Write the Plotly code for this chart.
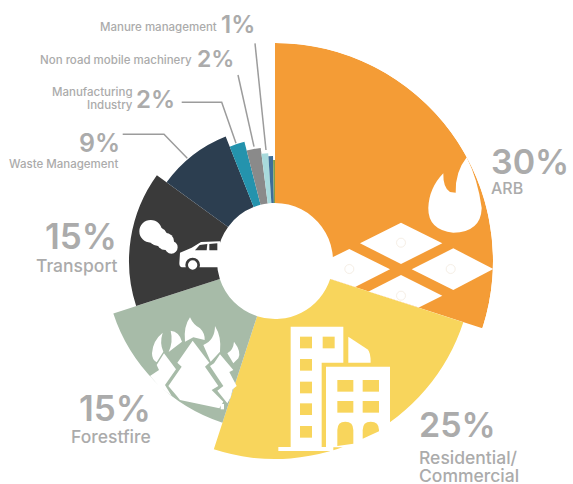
import re
import plotly.graph_objects as go

W, H = 573, 484

# Emission sources, clockwise from twelve o'clock
sources = ["ARB", "Residential/Commercial", "Forestfire", "Transport", "Waste Management",
           "Manufacturing Industry", "Non road mobile machinery", "Manure management",
           "Other", "Other"]
shares = [30, 25, 15, 15, 9, 2, 2, 1, 0.7, 0.3]
reach = [218, 198, 170, 146, 134, 123, 114, 108, 105, 101]
colors = ["#F49C36", "#F8D55C", "#A7BBA8", "#3A3A3A", "#2C3E50",
          "#2493AD", "#8A8A8A", "#A8DADC", "#3E6E98", "#7FA04A"]
HOLE = 58
CX, CY = 275, 261

widths, mids, start = [], [], 0.0
for s in shares:
    w = s * 3.6
    widths.append(w)
    mids.append(start + w / 2)
    start += w

fig = go.Figure(go.Barpolar(
    theta=mids, width=widths, r=[v - HOLE for v in reach], base=HOLE,
    marker=dict(color=colors, line=dict(width=0)),
    text=sources, hovertemplate="%{text}<extra></extra>",
))


def fx(x):
    return x / W


def fy(y):
    return 1 - y / H


def to_path(cmds, ox=0.0, oy=0.0, s=1.0):
    """Turn a pixel-space path into paper coordinates."""
    def pair(m):
        x = ox + float(m.group(1)) * s
        y = oy + float(m.group(2)) * s
        return f"{fx(x):.5f},{fy(y):.5f}"
    return re.sub(r"(-?[\d.]+),(-?[\d.]+)", pair, cmds)


shapes = []


def fill(cmds, color="white", ox=0.0, oy=0.0, s=1.0):
    shapes.append(dict(type="path", path=to_path(cmds, ox, oy, s), xref="paper", yref="paper",
                       fillcolor=color, line=dict(width=0), layer="above"))


def disc(x, y, r, color="white", ox=0.0, oy=0.0, s=1.0, edge=None):
    x, y, r = ox + x * s, oy + y * s, r * s
    shapes.append(dict(type="circle", xref="paper", yref="paper",
                       x0=fx(x - r), x1=fx(x + r), y0=fy(y + r), y1=fy(y - r),
                       fillcolor=color, layer="above",
                       line=dict(width=1 if edge else 0, color=edge or color)))


def leader(cmds):
    shapes.append(dict(type="path", path=to_path(cmds), xref="paper", yref="paper",
                       line=dict(color="#9C9C9C", width=1.5), layer="above"))


# Flame and burning field plots on the ARB slice
fill("M 453.3,232.7 Q 428,230 428.3,208 Q 429,188 443.3,173.3 Q 443,188 450,192 L 455.7,192.7 "
     "Q 455,172 466.7,157.3 Q 478,180 481.7,208 Q 481,232 453.3,232.7 Z")
fill("M 360,243.3 L 401,222.7 L 442.3,243.3 L 401,264 Z")
fill("M 411.7,269.3 L 453.3,248.3 L 493.3,269 L 453.3,290 Z")
fill("M 308,269.3 L 349.3,249 L 390,269.3 L 355.1,287.1 L 322,276.3 Z")
fill("M 368.6,291.4 L 401,275 L 442.3,295.7 L 418.8,307.6 Z")
for px, py in [(401, 242.7), (349.3, 269), (450.7, 269), (401, 295.7)]:
    disc(px, py, 4.5, edge="#F6EFE6")

# Apartment blocks on the residential slice
B = dict(ox=230, oy=300, s=1 / 3)
fill("M 182,80 L 340,80 L 340,188 L 275,188 L 275,442 L 182,442 Z", **B)
fill("M 355,110 L 412,148 Q 422,156 422,188 L 355,188 Z", **B)
fill("M 288,200 L 480,200 L 480,442 L 288,442 Z", **B)
fill("M 145,441 L 310,441 L 310,453 L 145,453 Z", **B)
for x0, x1 in [(210, 246), (278, 314)]:
    fill(f"M {x0},110 L {x1},110 L {x1},145 L {x0},145 Z", "#F8D55C", **B)
for y0 in [177, 245, 310, 378]:
    fill(f"M 210,{y0} L 246,{y0} L 246,{y0 + 35} L 210,{y0 + 35} Z", "#F8D55C", **B)
for x0, x1 in [(322, 370), (398, 447)]:
    for y0 in [240, 303]:
        fill(f"M {x0},{y0} L {x1},{y0} L {x1},{y0 + 35} L {x0},{y0 + 35} Z", "#F8D55C", **B)
fill("M 322,438 L 322,390 Q 322,365 346,365 Q 370,365 370,390 L 370,431 Z", "#F8D55C", **B)
fill("M 398,416 L 398,390 Q 398,365 422,365 Q 447,365 447,390 L 447,394 Z", "#F8D55C", **B)

# Burning trees on the forest fire slice
T = dict(ox=140, oy=300, s=1 / 3)
fill("M 50,187 Q 36,180 36,160 Q 38,122 68,98 Q 58,130 70,155 Z", **T)
fill("M 92,92 Q 118,95 126,125 L 86,156 Q 100,125 92,92 Z", **T)
fill("M 150,52 Q 160,75 180,85 Q 195,100 194,120 L 160,112 L 135,125 Q 130,80 150,52 Z", **T)
fill("M 225,78 Q 245,110 240,155 L 212,185 L 190,135 Q 225,120 225,78 Z", **T)
fill("M 282,125 Q 305,155 295,175 L 280,190 L 262,160 Q 280,150 282,125 Z", **T)
fill("M 158,122 L 208,188 L 195,200 L 235,258 L 215,270 L 250,305 L 238,325 L 120,300 "
     "L 108,285 L 85,258 L 125,200 L 112,188 Z", **T)
fill("M 72,160 L 108,208 L 75,255 L 95,288 L 60,262 L 30,228 L 57,210 L 50,195 Z", **T)
fill("M 240,163 L 280,210 L 268,216 L 290,258 L 278,268 L 272,292 L 262,310 L 232,272 "
     "L 250,258 L 210,198 L 222,190 Z", **T)
fill("M 242,312 L 252,312 L 252,328 L 242,328 Z", **T)

# Car and exhaust cloud on the transport slice
C = dict(ox=130, oy=210, s=1 / 3)
for cx, cy, r in [(62, 64, 34), (84, 80, 28), (106, 94, 26), (124, 112, 19)]:
    disc(cx, cy, r, **C)
fill("M 150,128 L 185,113 L 213,96 L 270,94 L 270,172 L 155,172 Q 148,170 148,160 Z", **C)
fill("M 195,121 L 209,105 L 232,102 L 230,121 Z", "#3A3A3A", **C)
fill("M 238,102 L 262,100 L 262,121 L 238,121 Z", "#3A3A3A", **C)
disc(188, 165, 22, "#3A3A3A", **C)
disc(188, 165, 14, **C)

# Leader lines for the narrow slices
leader("M 255,43.3 L 266,150")
leader("M 238,75 L 254,146.7")
leader("M 181.7,102.3 L 221.7,102.3 L 236,143.3")
leader("M 122.7,134.3 L 164,134.3 L 187.3,158.3")

GREY = "#ABABAB"
annotations = []


def label(text, x, y, size, anchor="left", weight=500):
    annotations.append(dict(text=text, x=fx(x), y=fy(y), xref="paper", yref="paper",
                            xanchor=anchor, yanchor="middle", showarrow=False,
                            borderpad=0, align=anchor,
                            font=dict(family="Inter", size=size, color=GREY, weight=weight)))


label("30%", 490, 161.5, 34, weight=600)
label("ARB", 490, 188, 16)
label("25%", 418, 424, 34, weight=600)
label("Residential/", 418, 457.5, 17.5)
label("Commercial", 418, 475, 17.5)
label("15%", 118, 236, 35, "right", 600)
label("Transport", 118, 265, 17.5, "right")
label("15%", 152, 408, 35, "right", 600)
label("Forestfire", 152, 436.5, 17.5, "right")
label("9%", 121, 142.5, 25, "right", 600)
label("Waste Management", 120, 163.5, 11.5, "right")
label("2%", 176, 100, 24, "right", 600)
label("Manufacturing", 134, 92, 11.5, "right")
label("Industry", 134, 105, 11.5, "right")
label("2%", 235, 59, 23, "right", 600)
label("Non road mobile machinery", 193, 60, 11.5, "right")
label("1%", 256, 25, 24, "right", 600)
label("Manure management", 218, 27.5, 11.5, "right")

fig.update_layout(
    width=W, height=H, showlegend=False,
    margin=dict(l=0, r=0, t=0, b=0),
    paper_bgcolor="white", plot_bgcolor="white",
    polar=dict(
        domain=dict(x=[fx(CX - 218), fx(CX + 218)], y=[fy(CY + 218), fy(CY - 218)]),
        bgcolor="white",
        angularaxis=dict(visible=False, direction="clockwise", rotation=90),
        radialaxis=dict(visible=False, range=[0, 218]),
        barmode="overlay",
    ),
    shapes=shapes, annotations=annotations,
)

fig.write_html("out.html", config=dict(displayModeBar=False))
